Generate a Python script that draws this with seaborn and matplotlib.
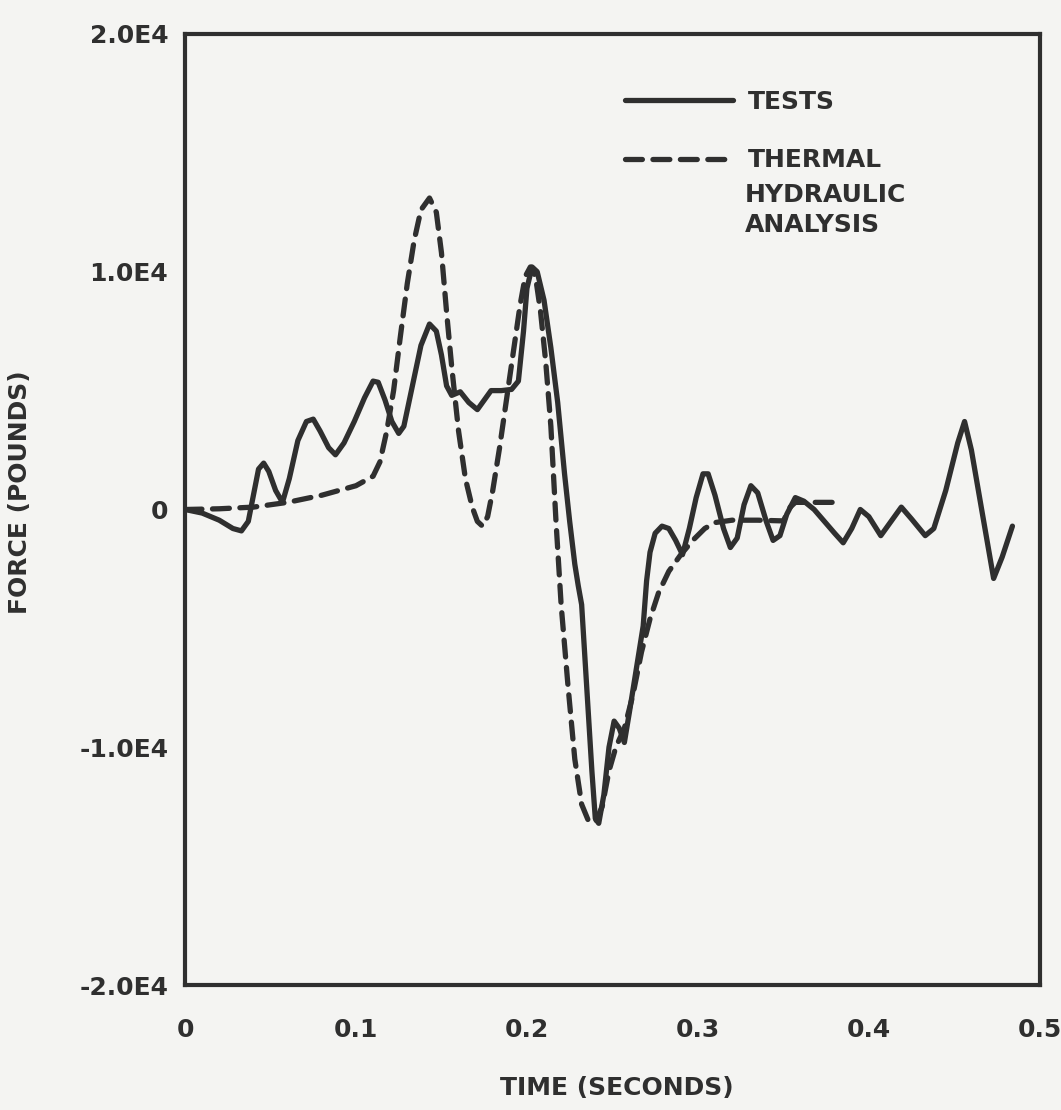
import matplotlib
matplotlib.use("Agg")
import matplotlib.pyplot as plt
import seaborn as sns
from matplotlib.lines import Line2D
from matplotlib.ticker import FixedLocator

# ---- data ----
test_time = [0.000, 0.010, 0.020, 0.028, 0.033, 0.037, 0.040, 0.043, 0.046, 0.049,
             0.053, 0.057, 0.061, 0.066, 0.071, 0.075, 0.079, 0.084, 0.088, 0.093,
             0.099, 0.105, 0.110, 0.113, 0.117, 0.121, 0.125, 0.128, 0.133, 0.138,
             0.143, 0.147, 0.150, 0.153, 0.156, 0.161, 0.166, 0.171, 0.175, 0.179,
             0.185, 0.191, 0.195, 0.198, 0.200, 0.203, 0.206, 0.210, 0.214, 0.218,
             0.222, 0.225, 0.228, 0.230, 0.232, 0.235, 0.238, 0.240, 0.242, 0.245,
             0.248, 0.251, 0.254, 0.257, 0.260, 0.264, 0.268, 0.270, 0.272, 0.275,
             0.279, 0.283, 0.287, 0.291, 0.295, 0.299, 0.303, 0.306, 0.310, 0.315,
             0.319, 0.323, 0.327, 0.331, 0.335, 0.340, 0.344, 0.348, 0.352, 0.357,
             0.362, 0.368, 0.374, 0.380, 0.385, 0.390, 0.395, 0.400, 0.407, 0.413,
             0.419, 0.425, 0.433, 0.438, 0.445, 0.452, 0.456, 0.460, 0.466, 0.473,
             0.478, 0.484]
test_force = [0, -150, -450, -800, -900, -500, 600, 1700, 1950, 1600,
              800, 300, 1300, 2900, 3700, 3800, 3300, 2600, 2300, 2800,
              3700, 4700, 5400, 5350, 4600, 3700, 3200, 3500, 5200, 6900,
              7800, 7500, 6500, 5200, 4800, 4950, 4500, 4200, 4600, 5000,
              5000, 5050, 5400, 7500, 9300, 10200, 10000, 8800, 6800, 4500,
              1500, -500, -2300, -3200, -4000, -7500, -11000, -13000, -13200, -12000,
              -10000, -8900, -9200, -9800, -8500, -6700, -4900, -3000, -1800, -1000,
              -700, -800, -1300, -1900, -800, 500, 1500, 1500, 600, -800,
              -1600, -1200, 200, 1000, 700, -500, -1300, -1100, -200, 500,
              350, 0, -500, -1000, -1400, -800, 0, -300, -1100, -500,
              100, -400, -1100, -800, 800, 2800, 3700, 2500, 0, -2900,
              -2000, -700]

analysis_time = [0.000, 0.020, 0.040, 0.060, 0.080, 0.100, 0.110, 0.114, 0.118, 0.122,
                 0.126, 0.130, 0.134, 0.138, 0.143, 0.147, 0.150, 0.153, 0.156, 0.160,
                 0.164, 0.168, 0.171, 0.174, 0.177, 0.180, 0.184, 0.188, 0.192, 0.196,
                 0.199, 0.202, 0.205, 0.208, 0.211, 0.214, 0.217, 0.220, 0.224, 0.228,
                 0.232, 0.236, 0.240, 0.244, 0.248, 0.252, 0.257, 0.262, 0.267, 0.272,
                 0.277, 0.283, 0.290, 0.297, 0.304, 0.310, 0.320, 0.335, 0.350, 0.354,
                 0.357, 0.370, 0.379]
analysis_force = [0, 30, 100, 300, 600, 1000, 1400, 2000, 3300, 5000,
                  7300, 9500, 11300, 12600, 13100, 12500, 10800, 8300, 6000, 3300,
                  1300, 100, -500, -700, -300, 800, 2600, 4600, 6600, 8600,
                  9800, 10200, 9800, 8300, 6200, 3500, -500, -4000, -7400, -10500,
                  -12400, -13100, -13150, -12500, -11000, -10000, -9200, -7800, -6000, -4600,
                  -3500, -2600, -1900, -1300, -800, -550, -450, -450, -480, 100,
                  300, 300, 300]

x_ticks = [0, 0.1, 0.2, 0.3, 0.4, 0.5]
x_tick_labels = ["0", "0.1", "0.2", "0.3", "0.4", "0.5"]
x_marks = [0.1, 0.2, 0.3, 0.4]
y_ticks = [-2.0e4, -1.0e4, 0, 1.0e4, 2.0e4]
y_tick_labels = ["-2.0E4", "-1.0E4", "0", "1.0E4", "2.0E4"]
y_marks = [-1.0e4, 1.0e4]

series_labels = ["TESTS", "THERMAL"]
extra_label = "HYDRAULIC\nANALYSIS"
x_title = "TIME (SECONDS)"
y_title = "FORCE (POUNDS)"

# ---- style ----
sns.set_theme(style="white")
plt.rcParams["font.family"] = ["DejaVu Sans"]
plt.rcParams["font.weight"] = "bold"

ink = "#2f2f2f"
paper = "#f4f4f2"
fs = 18
dash = (0, (3.2, 2.0))

fig = plt.figure(figsize=(10.61, 11.10), dpi=100, facecolor=paper)
ax = fig.add_axes([0.1744, 0.1126, 0.8056, 0.8568], facecolor=paper)

sns.lineplot(x=test_time, y=test_force, ax=ax, color=ink, lw=3.8,
             estimator=None, sort=False, solid_joinstyle="round", solid_capstyle="round")
sns.lineplot(x=analysis_time, y=analysis_force, ax=ax, color=ink, lw=3.8,
             estimator=None, sort=False, linestyle=dash, dash_capstyle="round",
             dash_joinstyle="round")

ax.set_xlim(0, 0.5)
ax.set_ylim(-2.0e4, 2.0e4)

ax.set_xticks(x_ticks)
ax.set_xticklabels(x_tick_labels)
ax.set_yticks(y_ticks)
ax.set_yticklabels(y_tick_labels)
ax.xaxis.set_minor_locator(FixedLocator(x_marks))
ax.yaxis.set_minor_locator(FixedLocator(y_marks))
ax.tick_params(axis="both", which="major", length=0, labelsize=fs, labelcolor=ink)
ax.tick_params(axis="x", which="major", pad=24)
ax.tick_params(axis="y", which="major", pad=12)
ax.tick_params(axis="x", which="minor", direction="in", length=22, width=2.2,
               color=ink, bottom=True)
ax.tick_params(axis="y", which="minor", direction="in", length=25, width=2.2,
               color=ink, left=True)

for s in ax.spines.values():
    s.set_visible(True)
    s.set_linewidth(3.0)
    s.set_color(ink)

ax.set_xlabel(x_title, fontsize=fs, fontweight="bold", color=ink)
ax.set_ylabel(y_title, fontsize=fs, fontweight="bold", color=ink)
ax.xaxis.set_label_coords(0.505, -0.096)
ax.yaxis.set_label_coords(-0.179, 0.518)

handles = [Line2D([], [], color=ink, lw=3.8),
           Line2D([], [], color=ink, lw=3.8, linestyle=dash, dash_capstyle="round")]
leg = ax.legend(handles, series_labels, loc="upper left", bbox_to_anchor=(0.515, 0.941),
                frameon=False, fontsize=fs, handlelength=4.3, handletextpad=0.6,
                labelspacing=1.37, borderpad=0, borderaxespad=0)
for t in leg.get_texts():
    t.set_color(ink)
    t.set_fontweight("bold")

ax.text(0.655, 0.843, extra_label, transform=ax.transAxes, fontsize=fs,
        fontweight="bold", color=ink, va="top", ha="left", linespacing=1.32)

fig.savefig("out.png", dpi=100, facecolor=paper)
